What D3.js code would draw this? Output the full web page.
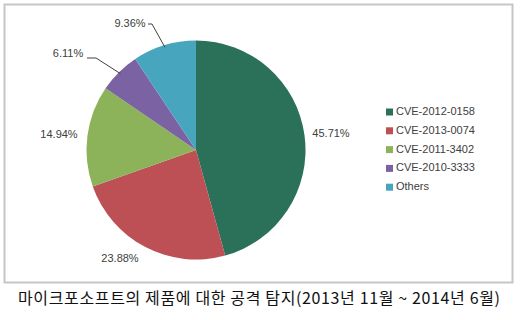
<!DOCTYPE html>
<html>
<head>
<meta charset="utf-8">
<script src="https://cdn.jsdelivr.net/npm/d3@7"></script>
<style>
  body { margin: 0; background: #fff; }
</style>
</head>
<body>
<script>
// Chart data
const categories = ["CVE-2012-0158", "CVE-2013-0074", "CVE-2011-3402", "CVE-2010-3333", "Others"];
const values = [45.71, 23.88, 14.94, 6.11, 9.36];
const colors = ["#2b7059", "#bc5055", "#8db35a", "#7b63a3", "#47a6be"];
const caption = "마이크포소프트의 제품에 대한 공격 탐지(2013년 11월 ~ 2014년 6월)";

const width = 520, height = 320;
const cx = 196, cy = 150, radius = 109.5;

const svg = d3.select("body").append("svg")
    .attr("width", width)
    .attr("height", height);

// Chart frame
svg.append("rect")
    .attr("x", 4.5).attr("y", 4.5)
    .attr("width", 508).attr("height", 278)
    .attr("fill", "#fff")
    .attr("stroke", "#c6c6c6")
    .attr("stroke-width", 2);

const data = categories.map((c, i) => ({ name: c, value: values[i], color: colors[i] }));

const pie = d3.pie().sort(null).value(d => d.value);
const arc = d3.arc().innerRadius(0).outerRadius(radius);
const arcs = pie(data);

const g = svg.append("g").attr("transform", `translate(${cx},${cy})`);

g.selectAll("path")
    .data(arcs)
    .enter().append("path")
    .attr("d", arc)
    .attr("fill", d => d.data.color);

const labelFont = "'Liberation Sans', Arial, sans-serif";

// label positions relative to the pie centre
const labelPos = [
    [135, -16],   // 45.71%
    [-76, 109],   // 23.88%
    [-137, -15],  // 14.94%
    [-128, -96],  // 6.11%
    [-66, -126]   // 9.36%
];

g.selectAll("text.lbl")
    .data(arcs)
    .enter().append("text")
    .attr("class", "lbl")
    .attr("x", (d, i) => labelPos[i][0])
    .attr("y", (d, i) => labelPos[i][1])
    .attr("text-anchor", "middle")
    .attr("dominant-baseline", "middle")
    .style("font-family", labelFont)
    .style("font-size", "11px")
    .style("fill", "#404040")
    .text(d => d.data.value.toFixed(2) + "%");

// Leader lines for the small slices
const leaders = [
    { i: 3, pts: [[-109, -92], [-100, -92]] },
    { i: 4, pts: [[-48, -126], [-44, -126]] }
];
const line = d3.line();
leaders.forEach(l => {
    const a = arcs[l.i];
    const mid = (a.startAngle + a.endAngle) / 2;
    const end = [Math.sin(mid) * radius * 0.98, -Math.cos(mid) * radius * 0.98];
    g.append("path")
        .attr("d", line(l.pts.concat([end])))
        .attr("fill", "none")
        .attr("stroke", "#404040")
        .attr("stroke-width", 1);
});

// Legend
const legend = svg.append("g").attr("transform", "translate(386,112)");
data.forEach((d, i) => {
    const row = legend.append("g").attr("transform", `translate(0,${i * 18.8})`);
    row.append("rect")
        .attr("x", 0).attr("y", -3.5)
        .attr("width", 7).attr("height", 7)
        .attr("fill", d.color);
    row.append("text")
        .attr("x", 10).attr("y", 0)
        .attr("dominant-baseline", "middle")
        .style("font-family", labelFont)
        .style("font-size", "11px")
        .style("fill", "#404040")
        .text(d.name);
});

// Caption below the frame
svg.append("text")
    .attr("x", 18).attr("y", 304)
    .attr("textLength", 482)
    .attr("lengthAdjust", "spacing")
    .style("font-family", "'Noto Sans CJK KR', sans-serif")
    .style("font-size", "16px")
    .style("fill", "#111")
    .text(caption);
</script>
</body>
</html>
